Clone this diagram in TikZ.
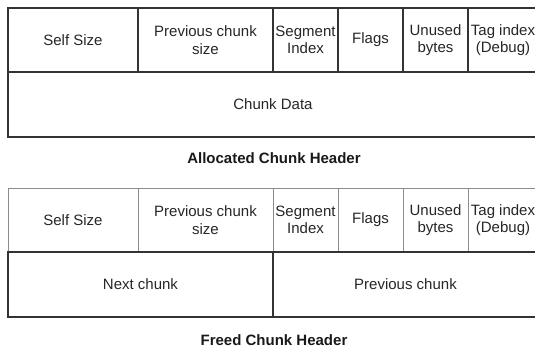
\documentclass[tikz,border=0pt]{standalone}
\usepackage{fontspec}
\setmainfont{Liberation Sans}
\begin{document}
\begin{tikzpicture}[x=1pt,y=-1pt,
  cell/.style={draw=black!80, line width=1.1pt, rectangle, inner sep=0pt,
    align=center, font=\fontsize{15}{17.5}\selectfont, text=black!85},
  lightcell/.style={cell, draw=black!45, line width=0.9pt},
  caption/.style={font=\fontsize{15}{17.5}\selectfont\bfseries, text=black!90}]
\useasboundingbox (0,0) rectangle (535,347);
\clip (0,0) rectangle (535,347);

% Allocated chunk header: first row of fields
\node[cell, minimum width=130pt, minimum height=64pt] (aself) at (73,40) {Self Size};
\node[cell, minimum width=135pt, minimum height=64pt] (aprev) at (205.5,40) {Previous chunk\\size};
\node[cell, minimum width=65pt, minimum height=64pt] (aseg) at (305.5,40) {Segment\\Index};
\node[cell, minimum width=65pt, minimum height=64pt] (aflags) at (370.5,40) {Flags};
\node[cell, minimum width=65pt, minimum height=64pt] (aunused) at (435.5,40) {Unused\\bytes};
\node[cell, minimum width=70pt, minimum height=64pt] (atag) at (503,40) {Tag index\\(Debug)};
% Allocated chunk header: data row
\node[cell, minimum width=530pt, minimum height=65pt] (adata) at (273,104.5) {Chunk Data};
\node[caption] (acap) at (274,158) {Allocated Chunk Header};

% Freed chunk header: first row of fields
\node[lightcell, minimum width=130pt, minimum height=64pt] (fself) at (73,220) {Self Size};
\node[lightcell, minimum width=135pt, minimum height=64pt] (fprev) at (205.5,220) {Previous chunk\\size};
\node[lightcell, minimum width=65pt, minimum height=64pt] (fseg) at (305.5,220) {Segment\\Index};
\node[lightcell, minimum width=65pt, minimum height=64pt] (fflags) at (370.5,220) {Flags};
\node[lightcell, minimum width=65pt, minimum height=64pt] (funused) at (435.5,220) {Unused\\bytes};
\node[lightcell, minimum width=70pt, minimum height=64pt] (ftag) at (503,220) {Tag index\\(Debug)};
% Freed chunk header: list links
\node[cell, minimum width=265pt, minimum height=65pt] (fnext) at (140.5,284.5) {Next chunk};
\node[cell, minimum width=265pt, minimum height=65pt] (fprevc) at (405.5,284.5) {Previous chunk};
\node[caption] (fcap) at (274,340) {Freed Chunk Header};
\end{tikzpicture}
\end{document}
